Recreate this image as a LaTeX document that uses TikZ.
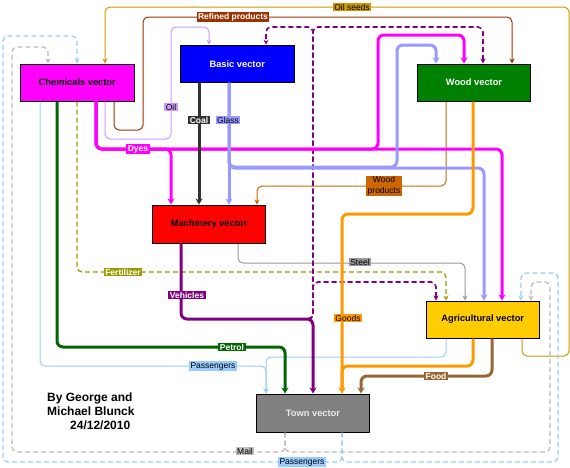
\documentclass[tikz,border=0pt]{standalone}
\usepackage{fontspec}
\setmainfont{Liberation Sans}
\usetikzlibrary{arrows.meta}
\definecolor{cmag}{HTML}{FF00FF}
\definecolor{cblue}{HTML}{0000FF}
\definecolor{cgreen}{HTML}{008000}
\definecolor{cgold}{HTML}{FFCC00}
\definecolor{cgray}{HTML}{808080}
\definecolor{cseeds}{HTML}{CC9900}
\definecolor{crefined}{HTML}{993300}
\definecolor{coil}{HTML}{CC99FF}
\definecolor{ccoal}{HTML}{333333}
\definecolor{cglass}{HTML}{9999FF}
\definecolor{cwoodp}{HTML}{CC6600}
\definecolor{cgoods}{HTML}{FF9900}
\definecolor{csteel}{HTML}{999999}
\definecolor{cfert}{HTML}{999900}
\definecolor{cveh}{HTML}{800080}
\definecolor{cpetrol}{HTML}{006600}
\definecolor{cpass}{HTML}{99CCFF}
\definecolor{cfood}{HTML}{996633}
\definecolor{cmail}{HTML}{BBBBBB}
\definecolor{cmaillab}{HTML}{C0C0C0}
\begin{document}
\begin{tikzpicture}[x=1pt,y=-1pt,
  box/.style={draw=black,line width=1pt,minimum width=113.5pt,minimum height=37pt,inner sep=0pt,font=\fontsize{9.3}{11}\selectfont\bfseries},
  lab/.style={inner xsep=1.5pt,inner ysep=1pt,font=\fontsize{8.5}{9.5}\selectfont,text=black},
  wlab/.style={inner xsep=1.5pt,inner ysep=1pt,font=\fontsize{8.5}{9.5}\selectfont\bfseries,text=white},
  thinc/.style={line width=1pt,rounded corners=5pt,-{Stealth[length=5pt,width=5pt]}},
  thickc/.style={line width=3pt,rounded corners=6pt,-{Stealth[length=6pt,width=7pt]}},
  dshc/.style={line width=1.3pt,dash pattern=on 5pt off 3pt,rounded corners=5pt,-{Stealth[length=5pt,width=5pt]}},
]
\fill[white] (0,0) rectangle (570,467);
\useasboundingbox (0,0) rectangle (570,467);

% nodes
\node[box,fill=cmag] (chem) at (77.25,82.5) {Chemicals vector};
\node[box,fill=cblue,text=white] (basic) at (237.25,63.7) {Basic vector};
\node[box,fill=cgreen,text=white] (wood) at (474,82.5) {Wood vector};
\node[box,fill=red,text=black,minimum height=38pt] (mach) at (209,224) {Machinery vector};
\node[box,fill=cgold] (agri) at (482.75,319.5) {Agricultural vector};
\node[box,fill=cgray,text=white!92!black,minimum height=38pt] (town) at (313,413) {Town vector};

% Oil seeds
\draw[thinc,cseeds] (agri.south -| 522,0) -- (522,356) -- (569,356) -- (569,7) -- (105,7) -- (chem.north -| 105,0);
% Refined products
\draw[thinc,crefined] (chem.south -| 114,0) -- (114,130) -- (143,130) -- (143,17) -- (512,17) -- (wood.north -| 512,0);
% Oil
\draw[thinc,coil] (chem.south -| 105,0) -- (105,139) -- (171,139) -- (171,27) -- (209,27) -- (basic.north -| 209,0);
% Mail
\draw[dshc,cmail] (town.south -| 285,0) -- (285,452) -- (12,452) -- (12,47) -- (48,47) -- (chem.north -| 48,0);
\draw[dshc,cmail] (town.south -| 285,0) -- (285,452) -- (550,452) -- (550,282) -- (531,282) -- (agri.north -| 531,0);
% Passengers dashed
\draw[dshc,cpass] (town.south -| 342,0) -- (342,462) -- (3,462) -- (3,36) -- (77,36) -- (chem.north -| 77,0);
\draw[dshc,cpass] (town.south -| 342,0) -- (342,462) -- (558,462) -- (558,273) -- (521,273) -- (agri.north -| 521,0);
% Passengers
\draw[thinc,cpass] (chem.south -| 40,0) -- (40,366) -- (266,366) -- (town.north -| 266,0);
\draw[thinc,cpass] (agri.south -| 446,0) -- (446,357) -- (266,357) -- (town.north -| 266,0);
% Wood products
\draw[thinc,cwoodp] (wood.south -| 446,0) -- (446,186) -- (257,186) -- (mach.north -| 257,0);
% Steel
\draw[thinc,csteel] (mach.south -| 238,0) -- (238,263) -- (465,263) -- (agri.north -| 465,0);
% Fertilizer
\draw[dshc,cfert] (chem.south -| 77,0) -- (77,272) -- (446,272) -- (agri.north -| 446,0);
% Vehicles dashed
\coordinate (vj) at (300,319);
\draw[dshc,cveh,line width=1.6pt] (vj) -- (313,319) -- (313,27) -- (266,27) -- (basic.north -| 266,0);
\draw[dshc,cveh,line width=1.6pt] (vj) -- (313,319) -- (313,27) -- (483,27) -- (wood.north -| 483,0);
\draw[dshc,cveh,line width=1.6pt] (vj) -- (313,319) -- (313,282) -- (436,282) -- (agri.north -| 436,0);
% Dyes
\draw[thickc,cmag] (chem.south -| 96,0) -- (96,149) -- (171,149) -- (mach.north -| 171,0);
\draw[thickc,cmag] (chem.south -| 96,0) -- (96,149) -- (502,149) -- (agri.north -| 502,0);
\draw[thickc,cmag] (chem.south -| 96,0) -- (96,149) -- (378,149) -- (378,35) -- (464,35) -- (wood.north -| 464,0);
% Coal
\draw[thickc,ccoal] (basic.south -| 199,0) -- (mach.north -| 199,0);
% Glass
\draw[thickc,cglass] (basic.south -| 229,0) -- (mach.north -| 229,0);
\draw[thickc,cglass] (basic.south -| 229,0) -- (229,167) -- (397,167) -- (397,45) -- (436,45) -- (wood.north -| 436,0);
\draw[thickc,cglass] (basic.south -| 229,0) -- (229,168) -- (484,168) -- (agri.north -| 484,0);
% Goods
\draw[thickc,cgoods] (wood.south -| 473,0) -- (473,214) -- (342,214) -- (town.north -| 342,0);
\draw[thickc,cgoods] (agri.south -| 473,0) -- (473,366) -- (342,366) -- (town.north -| 342,0);
% Vehicles
\draw[thickc,cveh] (mach.south -| 181,0) -- (181,319) -- (313,319) -- (town.north -| 313,0);
% Petrol
\draw[thickc,cpetrol] (chem.south -| 57,0) -- (57,347) -- (285,347) -- (town.north -| 285,0);
% Food
\draw[thickc,cfood] (agri.south -| 492,0) -- (492,376) -- (361,376) -- (town.north -| 361,0);

% labels
\node[lab,fill=cseeds] (lOilseeds) at (352,7) {Oil seeds};
\node[wlab,fill=crefined] (lRefined) at (233,17) {Refined products};
\node[lab,fill=coil] (lOil) at (171,107) {Oil};
\node[wlab,fill=cmag] (lDyes) at (138,149) {Dyes};
\node[wlab,fill=ccoal] (lCoal) at (199,120) {Coal};
\node[lab,fill=cglass] (lGlass) at (228,120) {Glass};
\node[lab,fill=cwoodp,align=center,font=\fontsize{8.5}{10.5}\selectfont] (lWoodp) at (384,186) {Wood\\products};
\node[lab,fill=cgoods] (lGoods) at (348,318) {Goods};
\node[lab,fill=csteel] (lSteel) at (360,262) {Steel};
\node[wlab,fill=cfert] (lFert) at (123,272) {Fertilizer};
\node[wlab,fill=cveh] (lVeh) at (187,295) {Vehicles};
\node[wlab,fill=cpetrol] (lPetrol) at (232,347) {Petrol};
\node[lab,fill=cpass] (lPass) at (213,366) {Passengers};
\node[wlab,fill=cfood] (lFood) at (436,376) {Food};
\node[lab,fill=cmaillab] (lMail) at (245,451) {Mail};
\node[lab,fill=cpass] (lPass2) at (302,462) {Passengers};

% signature
\node[align=left,anchor=north west,inner sep=0pt,font=\fontsize{12}{14}\selectfont\bfseries] (sig) at (47,393) {By George and\\Michael Blunck\\\hspace*{23pt}24/12/2010};
\end{tikzpicture}
\end{document}
